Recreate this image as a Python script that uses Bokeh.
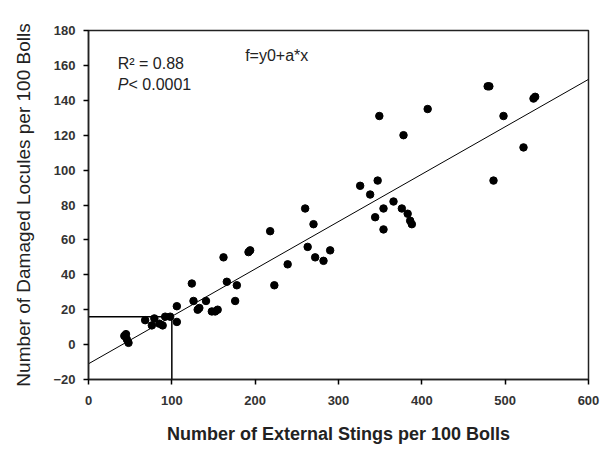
from bokeh.plotting import figure
from bokeh.models import Range1d, Label, FixedTicker
from bokeh.embed import file_html
from bokeh.resources import INLINE

# Data
stings = [43, 45, 46, 48,
          68, 76, 79, 85, 89, 92, 98, 106, 106,
          124, 126, 131, 133, 141, 148, 152, 155, 162, 166, 176, 178,
          192, 194, 218, 223, 239,
          260, 263, 270, 272, 282, 290,
          326, 338, 344, 347, 349, 354, 354, 366, 376, 378, 383, 386, 388,
          407, 479, 481, 486, 498, 522, 534, 536]
locules = [5, 6, 3, 1,
           14, 11, 15, 12, 11, 16, 16, 22, 13,
           35, 25, 20, 21, 25, 19, 19, 20, 50, 36, 25, 34,
           53, 54, 65, 34, 46,
           78, 56, 69, 50, 48, 54,
           91, 86, 73, 94, 131, 78, 66, 82, 78, 120, 75, 71, 69,
           135, 148, 148, 94, 131, 113, 141, 142]

fit_x = [0, 600]
fit_y = [-11, 152]

ref_h_x = [0, 100]
ref_h_y = [16, 16]
ref_v_x = [100, 100]
ref_v_y = [-20, 16]

x_ticks = [0, 100, 200, 300, 400, 500, 600]
y_ticks = [-20, 0, 20, 40, 60, 80, 100, 120, 140, 160, 180]

FONT = "Liberation Sans"

p = figure(width=602, height=451, output_backend="svg", toolbar_location=None,
           x_range=Range1d(0, 600), y_range=Range1d(-20, 180),
           min_border_left=88, min_border_right=14, min_border_top=30, min_border_bottom=72)
p.background_fill_color = "white"
p.border_fill_color = "white"
p.outline_line_color = "#222222"
p.outline_line_width = 1.5
p.xgrid.visible = False
p.ygrid.visible = False

p.line(fit_x, fit_y, line_color="black", line_width=1)
p.line(ref_h_x, ref_h_y, line_color="black", line_width=1.5)
p.line(ref_v_x, ref_v_y, line_color="black", line_width=1.5)
p.scatter(stings, locules, size=7.5, color="black")

for ax in (p.xaxis[0], p.yaxis[0]):
    ax.axis_line_color = "#222222"
    ax.axis_line_width = 1.5
    ax.major_tick_line_width = 1.5
    ax.major_tick_out = 5
    ax.major_tick_in = 0
    ax.minor_tick_line_color = None
    ax.major_label_text_font = FONT
    ax.major_label_text_font_style = "bold"
    ax.major_label_text_font_size = "13px"
    ax.major_label_text_color = "#333333"
    ax.axis_label_text_font = FONT
    ax.axis_label_text_color = "#222222"

p.xaxis.ticker = FixedTicker(ticks=x_ticks)
p.yaxis.ticker = FixedTicker(ticks=y_ticks)
p.xaxis.major_label_standoff = 11
p.yaxis.major_label_standoff = 8

p.xaxis.axis_label = "Number of External Stings per 100 Bolls"
p.xaxis.axis_label_text_font_size = "18px"
p.xaxis.axis_label_text_font_style = "bold"
p.xaxis.axis_label_standoff = 16

p.yaxis.axis_label = "Number of Damaged Locules per 100 Bolls"
p.yaxis.axis_label_text_font_size = "19px"
p.yaxis.axis_label_text_font_style = "normal"
p.yaxis.axis_label_standoff = 16

p.add_layout(Label(x=35, y=156, text="R² = 0.88", text_font=FONT,
                   text_font_size="16px", text_color="#222222"))
p.add_layout(Label(x=35, y=144, text="P", text_font=FONT, text_font_style="italic",
                   text_font_size="16px", text_color="#222222"))
p.add_layout(Label(x=48, y=144, text="< 0.0001", text_font=FONT,
                   text_font_size="16px", text_color="#222222"))
p.add_layout(Label(x=188, y=161, text="f=y0+a*x", text_font=FONT,
                   text_font_size="16px", text_color="#222222"))

open("out.html", "w").write(file_html(p, INLINE))
